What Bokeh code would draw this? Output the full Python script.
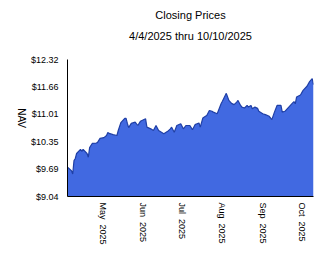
import math
from datetime import datetime
from bokeh.plotting import figure
from bokeh.models import Range1d, FixedTicker, DatetimeTickFormatter, Title, ColumnDataSource
from bokeh.embed import file_html
from bokeh.resources import INLINE

# ---- data ----
dates = [
    "2025-04-04", "2025-04-07", "2025-04-08", "2025-04-09", "2025-04-10", "2025-04-11",
    "2025-04-14", "2025-04-15", "2025-04-16", "2025-04-19", "2025-04-20", "2025-04-21",
    "2025-04-23", "2025-04-26", "2025-04-27", "2025-04-29", "2025-05-02", "2025-05-04",
    "2025-05-05", "2025-05-06", "2025-05-09", "2025-05-12", "2025-05-13", "2025-05-15",
    "2025-05-18", "2025-05-19", "2025-05-20", "2025-05-21", "2025-05-23", "2025-05-26",
    "2025-05-28", "2025-05-30", "2025-06-03", "2025-06-04", "2025-06-07", "2025-06-09",
    "2025-06-11", "2025-06-13", "2025-06-17", "2025-06-20", "2025-06-22", "2025-06-23",
    "2025-06-25", "2025-06-27", "2025-06-30", "2025-07-02", "2025-07-04", "2025-07-07",
    "2025-07-09", "2025-07-11", "2025-07-14", "2025-07-15", "2025-07-17", "2025-07-19",
    "2025-07-20", "2025-07-22", "2025-07-24", "2025-07-25", "2025-07-28", "2025-07-29",
    "2025-07-31", "2025-08-01", "2025-08-04", "2025-08-06", "2025-08-08", "2025-08-10",
    "2025-08-12", "2025-08-13", "2025-08-15", "2025-08-16", "2025-08-18", "2025-08-20",
    "2025-08-21", "2025-08-23", "2025-08-24", "2025-08-26", "2025-08-28", "2025-08-29",
    "2025-09-01", "2025-09-03", "2025-09-06", "2025-09-08", "2025-09-10", "2025-09-12",
    "2025-09-15", "2025-09-16", "2025-09-18", "2025-09-21", "2025-09-24", "2025-09-25",
    "2025-09-26", "2025-09-27", "2025-09-30", "2025-10-02", "2025-10-05", "2025-10-07",
    "2025-10-09", "2025-10-10",
]
nav = [
    9.74, 9.66, 9.58, 9.90, 9.95, 10.07,
    10.17, 10.12, 10.17, 10.07, 9.98, 10.21,
    10.31, 10.32, 10.33, 10.43, 10.45, 10.50,
    10.57, 10.55, 10.52, 10.50, 10.62, 10.81,
    10.91, 10.91, 10.79, 10.69, 10.79, 10.82,
    10.74, 10.84, 10.90, 10.70, 10.66, 10.62,
    10.74, 10.62, 10.54, 10.60, 10.66, 10.70,
    10.58, 10.74, 10.78, 10.66, 10.74, 10.74,
    10.64, 10.76, 10.80, 10.70, 10.92, 10.96,
    10.98, 11.10, 11.08, 11.06, 11.02, 11.10,
    11.26, 11.32, 11.51, 11.34, 11.27, 11.24,
    11.30, 11.34, 11.22, 11.18, 11.16, 11.22,
    11.18, 11.22, 11.14, 11.18, 11.15, 11.08,
    11.02, 11.00, 10.96, 10.88, 11.06, 11.22,
    11.22, 11.06, 11.08, 11.18, 11.28, 11.31,
    11.26, 11.42, 11.47, 11.58, 11.68, 11.79,
    11.86, 11.72,
]
y_ticks = [9.04, 9.69, 10.35, 11.01, 11.66, 12.32]
y_tick_labels = ["$9.04", "$9.69", "$10.35", "$11.01", "$11.66", "$12.32"]
x_tick_dates = ["2025-05-01", "2025-06-01", "2025-07-01", "2025-08-01", "2025-09-01", "2025-10-01"]
title_text = "Closing Prices"
subtitle_text = "4/4/2025 thru 10/10/2025"
y_label = "NAV"

FONT = "Liberation Sans"

x = [datetime.strptime(d, "%Y-%m-%d") for d in dates]
src = ColumnDataSource(dict(x=x, y=nav, base=[y_ticks[0]] * len(nav)))

p = figure(width=324, height=267, x_axis_type="datetime",
           output_backend="svg", toolbar_location=None,
           x_range=Range1d(x[0], x[-1]), y_range=Range1d(y_ticks[0], y_ticks[-1]),
           min_border_left=67, min_border_right=11, min_border_top=59, min_border_bottom=71)
p.background_fill_color = "white"
p.border_fill_color = "white"
p.outline_line_color = None
p.grid.visible = False

p.varea(x="x", y1="base", y2="y", source=src, fill_color="#4169E1")
p.line(x="x", y="y", source=src, line_color="#1f3fa6", line_width=1.2)

# y axis
p.yaxis.ticker = FixedTicker(ticks=y_ticks)
p.yaxis.major_label_overrides = {t: l for t, l in zip(y_ticks, y_tick_labels)}
p.yaxis.major_tick_line_color = None
p.yaxis.minor_tick_line_color = None
p.yaxis.axis_line_color = "black"
p.yaxis.major_label_text_font = FONT
p.yaxis.major_label_text_font_size = "9px"
p.yaxis.major_label_text_color = "black"
p.yaxis.major_label_standoff = 3
p.yaxis.axis_label = y_label
p.yaxis.axis_label_text_font = FONT
p.yaxis.axis_label_text_font_size = "10px"
p.yaxis.axis_label_text_font_style = "normal"
p.yaxis.axis_label_text_color = "black"
p.yaxis.axis_label_standoff = 6
try:
    p.yaxis.axis_label_orientation = -math.pi / 2
except Exception:
    pass

# x axis
x_ticks_ms = [datetime.strptime(d, "%Y-%m-%d").timestamp() * 1000 for d in x_tick_dates]
p.xaxis.ticker = FixedTicker(ticks=x_ticks_ms)
fmt = "%b\u00a0 %Y"
p.xaxis.formatter = DatetimeTickFormatter(days=fmt, months=fmt, years=fmt, context=None)
p.xaxis.major_label_orientation = -math.pi / 2
p.xaxis.major_tick_line_color = None
p.xaxis.minor_tick_line_color = None
p.xaxis.axis_line_color = "black"
p.xaxis.major_label_text_font = FONT
p.xaxis.major_label_text_font_size = "9px"
p.xaxis.major_label_text_color = "black"
p.xaxis.major_label_standoff = 0

# titles: figure title outermost; a blank spacer title sits next to the frame
p.title.text = title_text
p.title.align = "center"
p.title.offset = -28
p.title.standoff = 12
p.title.text_font = FONT
p.title.text_font_size = "11px"
p.title.text_font_style = "normal"
p.title.text_color = "black"
p.add_layout(Title(text=" ", text_font_size="8px", standoff=6), "above")
p.add_layout(Title(text=subtitle_text, align="center", offset=-28, standoff=2,
                   text_font=FONT, text_font_size="11px", text_font_style="normal",
                   text_color="black"),
             "above")

open("out.html", "w").write(file_html(p, INLINE))
